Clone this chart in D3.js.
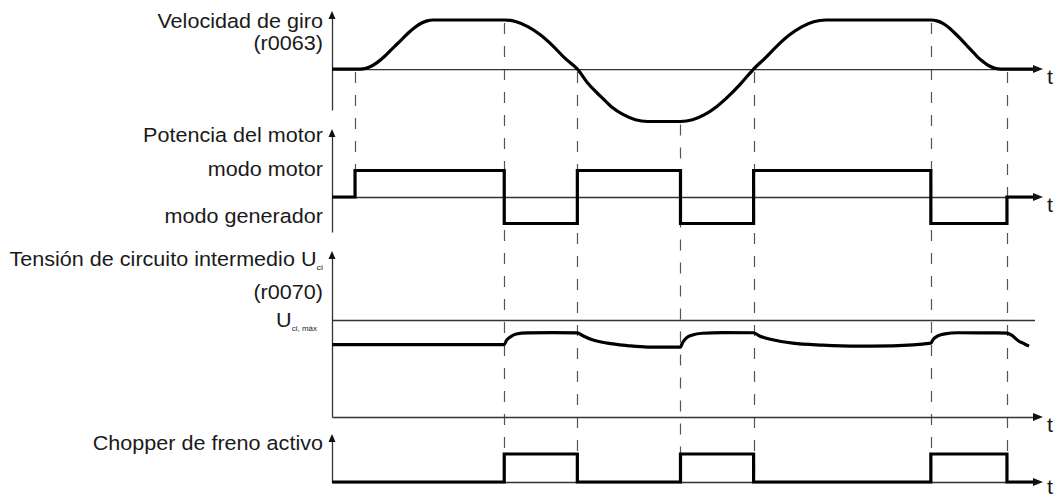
<!DOCTYPE html>
<html>
<head>
<meta charset="utf-8">
<script src="https://cdnjs.cloudflare.com/ajax/libs/d3/7.8.5/d3.min.js"></script>
<style>
  body { margin: 0; background: #fff; }
  text { font-family: "Liberation Sans", Arial, sans-serif; fill: #1a1a1a; }
</style>
</head>
<body>
<script>
// time of the switching events (dashed lines), arbitrary units
var eventTimes = [0.23, 1.72, 2.45, 3.48, 4.21, 5.98, 6.74];

// speed r0063, normalised
var speedT = [0,
  0.28, 0.34, 0.40, 0.46, 0.52, 0.58, 0.645, 0.71, 0.77, 0.83, 0.89, 0.95, 1.01,
  1.72, 1.84, 1.96, 2.08, 2.20, 2.32, 2.45, 2.56, 2.68, 2.79, 2.91, 3.03, 3.15,
  3.48, 3.60, 3.72, 3.84, 3.96, 4.08, 4.21, 4.33, 4.45, 4.57, 4.69, 4.81, 4.93,
  5.98, 6.04, 6.10, 6.155, 6.21, 6.27, 6.33, 6.39, 6.445, 6.505, 6.56, 6.62, 6.68,
  7.0];
var speedV = [0,
  0, 0.017, 0.067, 0.146, 0.25, 0.371, 0.5, 0.629, 0.75, 0.854, 0.933, 0.983, 1,
  1, 0.965, 0.861, 0.698, 0.483, 0.232, 0, -0.302, -0.553, -0.768, -0.931, -1.035, -1.07,
  -1.07, -1.035, -0.931, -0.768, -0.553, -0.302, 0, 0.232, 0.483, 0.698, 0.861, 0.965, 1,
  1, 0.983, 0.933, 0.854, 0.75, 0.629, 0.5, 0.371, 0.25, 0.146, 0.067, 0.017, 0,
  0];

// motor power: 1 = modo motor, -1 = modo generador
var powerT = [0, 0.23, 1.72, 2.45, 3.48, 4.21, 5.98, 6.74, 7.0];
var powerV = [0, 1, -1, 1, -1, 1, -1, 0, 0];

// DC link voltage r0070, relative to U_ci,max
var voltT = [0, 1.72, 1.74, 1.78, 1.84, 1.95, 2.2, 2.45,
  2.5, 2.6, 2.75, 2.95, 3.15, 3.48,
  3.5, 3.54, 3.6, 3.7, 3.9, 4.21,
  4.26, 4.4, 4.6, 4.9, 5.25, 5.6, 5.98,
  6.0, 6.05, 6.12, 6.25, 6.5, 6.74,
  6.79, 6.86, 6.9, 6.96];
var voltV = [0.75, 0.75, 0.79, 0.83, 0.86, 0.872, 0.875, 0.872,
  0.845, 0.8, 0.765, 0.74, 0.725, 0.725,
  0.77, 0.82, 0.85, 0.868, 0.875, 0.873,
  0.845, 0.8, 0.765, 0.745, 0.735, 0.738, 0.765,
  0.8, 0.84, 0.862, 0.873, 0.872, 0.87,
  0.845, 0.785, 0.765, 0.735];
var voltMax = 1;

// brake chopper active
var brakeT = [0, 1.72, 2.45, 3.48, 4.21, 5.98, 6.74, 7.0];
var brakeV = [0, 1, 0, 1, 0, 1, 0, 0];

var W = 1058, H = 498;
var svg = d3.select('body').append('svg')
  .attr('width', W)
  .attr('height', H);

var x = d3.scaleLinear().domain([0, 7.1]).range([332, 1043]);
var ySpeed = d3.scaleLinear().domain([-1.07, 1]).range([121.5, 20]);
var yPower = d3.scaleLinear().domain([-1, 1]).range([223.5, 170.5]);
var yVolt = d3.scaleLinear().domain([0, 1]).range([417, 320.5]);
var yBrake = d3.scaleLinear().domain([0, 1]).range([482, 454]);

var axisCol = '#333';
var fs = 21.6;

// text a bit flatter than the font, like the original drawing
var txt = function(px, py, anchor){
  return svg.append('text')
    .attr('transform', 'translate(' + px + ',' + py + ') scale(1,0.9)')
    .attr('text-anchor', anchor || 'start')
    .style('font-size', fs + 'px');
};

// dashed event lines, from the speed curve down
var speedAt = function(t){
  var i = speedT.indexOf(t);
  if (i >= 0) return speedV[i];
  return 0;
};
svg.selectAll('.ev').data(eventTimes).enter()
  .append('line')
  .attr('x1', function(d){ return Math.round(x(d)) + 0.5; })
  .attr('x2', function(d){ return Math.round(x(d)) + 0.5; })
  .attr('y1', function(d){ return ySpeed(speedAt(d)) + 3; })
  .attr('y2', function(d, i){ return i == 0 ? yPower(0) : yBrake(0); })
  .style('stroke', '#555')
  .style('stroke-width', 1.2)
  .style('stroke-dasharray', '11,12');

// one panel: vertical axis with arrow, time axis with arrow and "t"
var panel = function(y, top, bottom, tY){
  var g = svg.append('g');
  var v = d3.scaleLinear().range([bottom, top]);
  g.append('g')
    .attr('transform', 'translate(' + x(0) + ',0)')
    .call(d3.axisLeft(v).tickValues([]).tickSizeOuter(0))
    .select('.domain').attr('stroke', axisCol).attr('stroke-width', 1.3);
  g.append('path')
    .attr('d', 'M' + x(0) + ',' + (top - 2) + 'l-3.5,8h7z')
    .style('fill', '#111');
  var xa = x.copy().range([x(0), x(7.1) - 6]);
  g.append('g')
    .attr('transform', 'translate(0,' + y(0) + ')')
    .call(d3.axisBottom(xa).tickValues([]).tickSizeOuter(0))
    .select('.domain').attr('stroke', axisCol).attr('stroke-width', 1.3);
  g.append('path')
    .attr('d', 'M' + x(7.1) + ',' + y(0) + 'l-10,-4v8z')
    .style('fill', '#111');
  txt(1047, tY || y(0) + 15).text('t');
};

panel(ySpeed, 13, 110);
panel(yPower, 131, 232);
panel(yVolt, 253, 417);
panel(yBrake, 436, 482, 494);

// U_ci,max limit line
svg.append('line')
  .attr('x1', x(0)).attr('x2', 1035)
  .attr('y1', yVolt(voltMax)).attr('y2', yVolt(voltMax))
  .style('stroke', axisCol)
  .style('stroke-width', 1.5);

var thick = function(tArr, vArr, y, curve){
  svg.append('path')
    .datum(d3.range(tArr.length))
    .attr('d', d3.line()
      .x(function(i){ return x(tArr[i]); })
      .y(function(i){ return y(vArr[i]); })
      .curve(curve))
    .style('fill', 'none')
    .style('stroke', '#000')
    .style('stroke-width', 3.2)
    .style('stroke-linejoin', 'miter');
};

thick(speedT, speedV, ySpeed, d3.curveMonotoneX);
thick(powerT, powerV, yPower, d3.curveStepAfter);
thick(voltT, voltV, yVolt, d3.curveMonotoneX);
thick(brakeT, brakeV, yBrake, d3.curveStepAfter);

// labels
var lx = 323;
var label = function(y, str){
  return txt(lx, y, 'end').text(str);
};
label(28, 'Velocidad de giro');
label(50, '(r0063)');
label(142, 'Potencia del motor');
label(176, 'modo motor');
label(223, 'modo generador');
var tl = label(266, 'Tensión de circuito intermedio U');
tl.append('tspan').attr('dy', 4).style('font-size', '9px').text('ci');
label(299, '(r0070)');
var um = txt(317, 327, 'end').text('U');
um.append('tspan').attr('dy', 4).style('font-size', '8px').text('ci, máx');
label(450, 'Chopper de freno activo');
</script>
</body>
</html>
